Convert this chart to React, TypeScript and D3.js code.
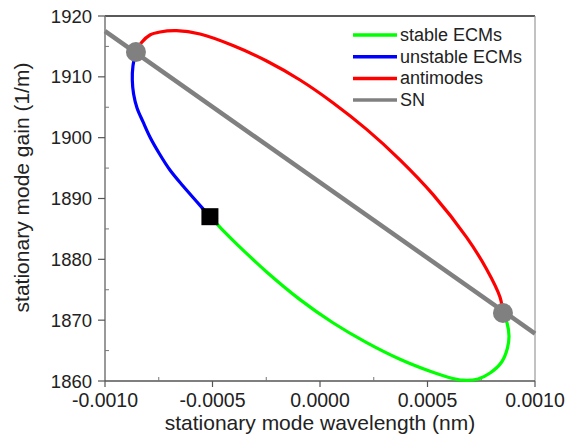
import React from "react";
import * as d3 from "d3";

const xTicks = [-0.001, -0.0005, 0, 0.0005, 0.001];
const xMinor = [-0.00075, -0.00025, 0.00025, 0.00075];
const yTicks = [1860, 1870, 1880, 1890, 1900, 1910, 1920];
const yMinor = [1865, 1875, 1885, 1895, 1905, 1915];

// unstable ECMs (blue): left SN point -> square
const blueX = [-0.000856, -0.00087, -0.000873, -0.000867, -0.000851, -0.000823, -0.000791, -0.000749, -0.000698, -0.000637, -0.000572, -0.000512];
const blueY = [1914.08, 1911.78, 1909.48, 1907.18, 1904.88, 1902.58, 1900.11, 1897.48, 1894.68, 1892.05, 1889.42, 1887.01];

// stable ECMs (green): square -> right SN point
const greenX = [-0.000512, -0.000456, -0.000381, -0.000248, -0.000093, 0.00006, 0.000217, 0.000372, 0.000512, 0.000589, 0.000665, 0.000735, 0.000791, 0.000845, 0.000872, 0.000879, 0.00087, 0.000851];
const greenY = [1887.01, 1884.94, 1882.31, 1877.92, 1873.38, 1869.58, 1866.31, 1863.57, 1861.59, 1860.69, 1860.13, 1860.33, 1861.31, 1863.12, 1865.42, 1867.4, 1869.53, 1871.18];

// antimodes (red): left SN point -> right SN point over the top
const redX = [-0.000856, -0.000829, -0.000791, -0.000744, -0.000667, -0.000558, -0.000405, -0.000248, -0.000093, 0.00006, 0.000217, 0.000372, 0.000526, 0.000682, 0.000775, 0.000837, 0.000851];
const redY = [1914.08, 1915.68, 1916.88, 1917.37, 1917.58, 1917.04, 1915.15, 1912.6, 1909.48, 1905.75, 1901.36, 1896.36, 1890.64, 1883.61, 1878.38, 1873.81, 1871.18];

// SN line
const snX = [-0.001, 0.001];
const snY = [1917.5, 1867.8];

// SN points and stability-change point
const snPtX = [-0.000856, 0.000851];
const snPtY = [1914.08, 1871.18];
const sqX = [-0.000512];
const sqY = [1887.01];

const legendLabels = ["stable ECMs", "unstable ECMs", "antimodes", "SN"];
const legendColors = ["#00ff00", "#0000ff", "#ff0000", "#808080"];

const W = 567, H = 441;
const L = 105, R = 535, T = 16, B = 381;
const FONT = "'Liberation Sans', Arial, sans-serif";
const TXT = "#222";

export default function App() {
  const x = d3.scaleLinear().domain([-0.001, 0.001]).range([L, R]);
  const y = d3.scaleLinear().domain([1860, 1920]).range([B, T]);
  const line = d3.line<[number, number]>().x(d => x(d[0])).y(d => y(d[1])).curve(d3.curveCatmullRom.alpha(0.5));
  const zip = (xs: number[], ys: number[]) => xs.map((v, i) => [v, ys[i]] as [number, number]);
  const fmtX = (v: number) => (Math.abs(v) < 1e-12 ? "0.0000" : v.toFixed(4));

  return (
    <svg width={W} height={H} style={{ position: "absolute", left: 0, top: 0, background: "#fff" }} fontFamily={FONT}>
      <rect x={0} y={0} width={W} height={H} fill="#fff" />
      {/* frame */}
      <line x1={L} x2={R} y1={T} y2={T} stroke="#222" strokeWidth={1.5} />
      <line x1={R} x2={R} y1={T} y2={B} stroke="#999" strokeWidth={1.2} />
      <line x1={L} x2={L} y1={T} y2={B} stroke="#777" strokeWidth={1.5} />
      <line x1={L} x2={R} y1={B} y2={B} stroke="#555" strokeWidth={1.5} />
      {/* x ticks */}
      {xTicks.map(t => (
        <g key={"xt" + t}>
          <line x1={x(t)} x2={x(t)} y1={B} y2={B + 6} stroke="#555" strokeWidth={1.2} />
          <text x={x(t)} y={407} textAnchor="middle" fontSize={19.5} fill={TXT}>{fmtX(t)}</text>
        </g>
      ))}
      {xMinor.map(t => (
        <line key={"xm" + t} x1={x(t)} x2={x(t)} y1={B} y2={B - 4} stroke="#777" strokeWidth={1} />
      ))}
      {/* y ticks */}
      {yTicks.map(t => (
        <g key={"yt" + t}>
          <line x1={L - 7} x2={L} y1={y(t)} y2={y(t)} stroke="#555" strokeWidth={1.2} />
          <text x={92} y={y(t) + 6.5} textAnchor="end" fontSize={18.5} fill={TXT}>{t}</text>
        </g>
      ))}
      {yMinor.map(t => (
        <line key={"ym" + t} x1={L} x2={L + 4} y1={y(t)} y2={y(t)} stroke="#777" strokeWidth={1} />
      ))}
      {/* axis titles */}
      <text x={320} y={430} textAnchor="middle" fontSize={21} fill={TXT}>stationary mode wavelength (nm)</text>
      <text transform={`translate(29, 187.5) rotate(-90)`} textAnchor="middle" fontSize={21} fill={TXT}>stationary mode gain (1/m)</text>

      {/* SN line */}
      <path d={line(zip(snX, snY)) || ""} fill="none" stroke="#808080" strokeWidth={4.5} />
      {/* curves */}
      <path d={line(zip(redX, redY)) || ""} fill="none" stroke="#ff0000" strokeWidth={3.2} />
      <path d={line(zip(greenX, greenY)) || ""} fill="none" stroke="#00ff00" strokeWidth={3.2} />
      <path d={line(zip(blueX, blueY)) || ""} fill="none" stroke="#0000ff" strokeWidth={3.2} />
      {/* SN points */}
      {snPtX.map((v, i) => (
        <circle key={"c" + i} cx={x(v)} cy={y(snPtY[i])} r={10} fill="#808080" />
      ))}
      {sqX.map((v, i) => (
        <rect key={"s" + i} x={x(v) - 8.5} y={y(sqY[i]) - 8.5} width={17} height={17} fill="#000" />
      ))}
      {/* legend */}
      {legendLabels.map((lab, i) => {
        const yy = 35 + i * 21.7;
        return (
          <g key={lab}>
            <line x1={353} x2={397} y1={yy} y2={yy} stroke={legendColors[i]} strokeWidth={3.5} />
            <text x={400} y={yy + 6} fontSize={18} fill={TXT}>{lab}</text>
          </g>
        );
      })}
    </svg>
  );
}
